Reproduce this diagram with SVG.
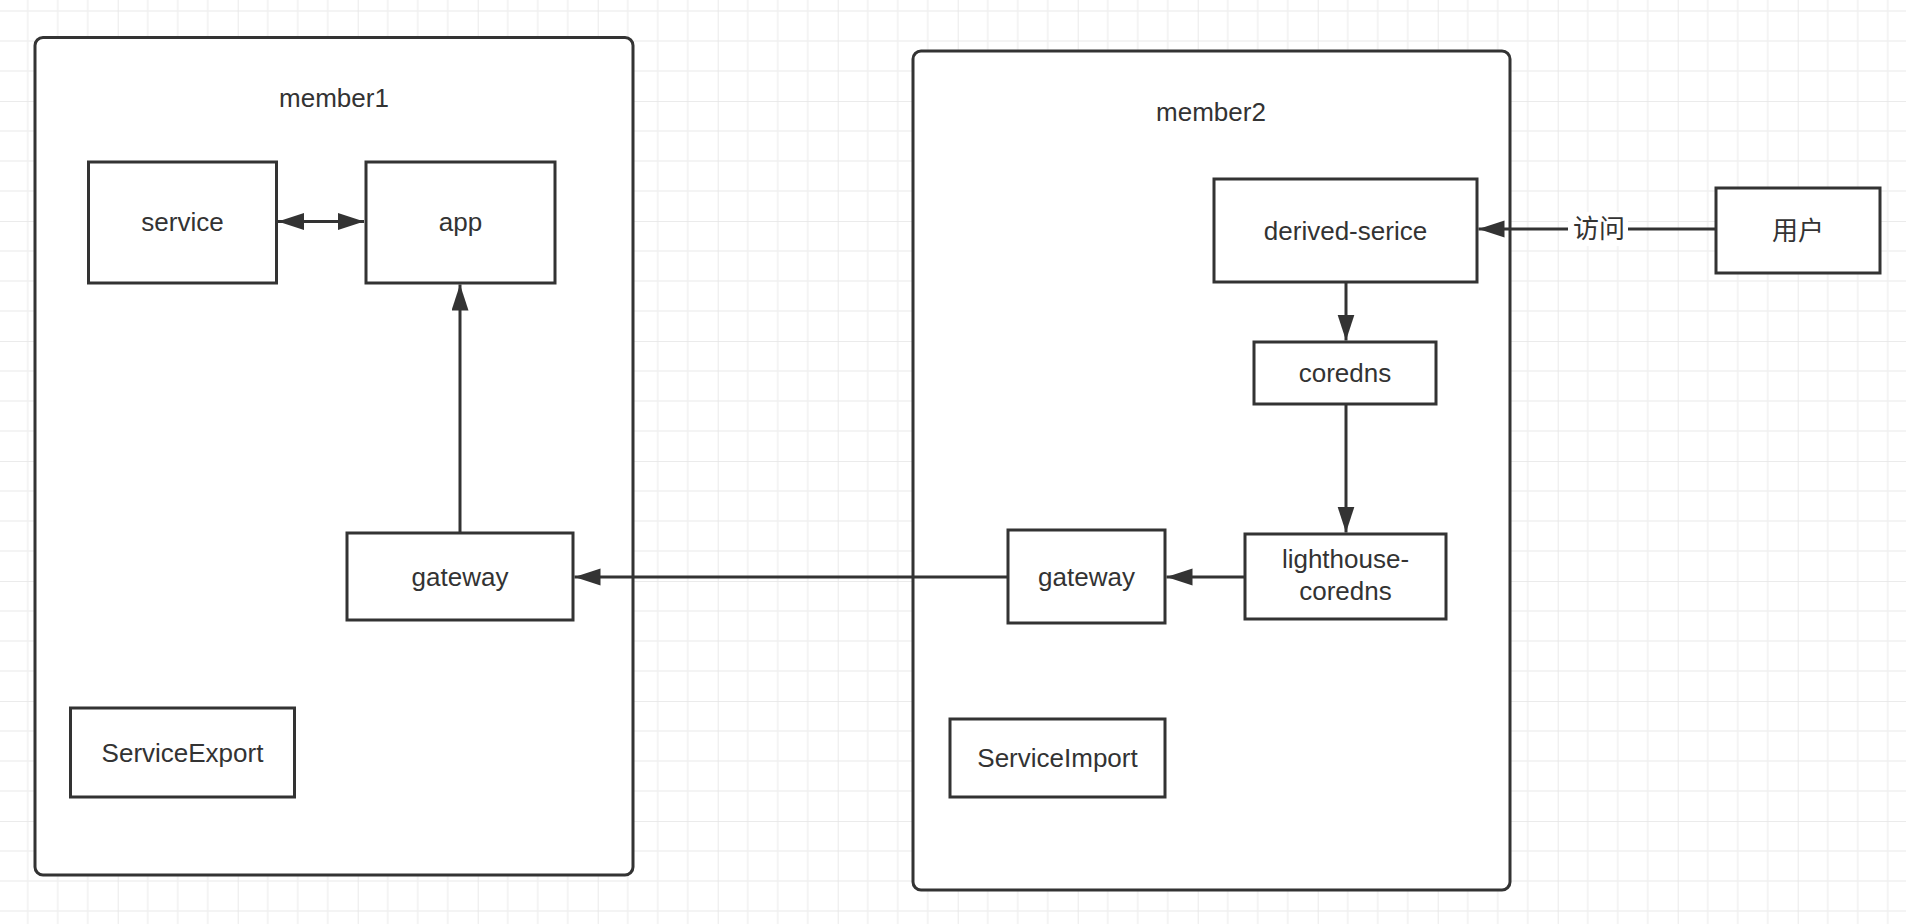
<svg xmlns="http://www.w3.org/2000/svg" width="1906" height="924" viewBox="0 0 1906 924">
<style>
.box{fill:#ffffff;stroke:#333333;stroke-width:3}
.cont{fill:#ffffff;stroke:#333333;stroke-width:3}
.lbl{font-family:"Liberation Sans","Noto Sans CJK SC",sans-serif;font-size:26px;fill:#333333;text-anchor:middle}
.edge{fill:none;stroke:#333333;stroke-width:3}
</style>
<defs>
<pattern id="grid" patternUnits="userSpaceOnUse" x="-2.3" y="-19" width="120" height="120">
<path d="M30,0V120M60,0V120M90,0V120M0,30H120M0,60H120M0,90H120" stroke="#f1f1f1" stroke-width="1.5" fill="none"/>
<path d="M0,0V120M0,0H120" stroke="#e5e5e5" stroke-width="1.6" fill="none"/>
</pattern>
<marker id="arrow" markerUnits="userSpaceOnUse" markerWidth="27" markerHeight="18" refX="26" refY="8.5" orient="auto-start-reverse" viewBox="0 0 27 18">
<path d="M0,0 L26,8.5 L0,17 z" fill="#333333"/>
</marker>
</defs>
<rect x="0" y="0" width="1906" height="924" fill="#ffffff"/>
<rect x="0" y="0" width="1906" height="924" fill="url(#grid)"/>

<g id="member1">
<rect class="cont" x="35" y="37.5" width="598" height="837.5" rx="8"/>
<text class="lbl" x="334" y="107">member1</text>
</g>
<g id="member2">
<rect class="cont" x="913" y="51" width="597" height="839" rx="8"/>
<text class="lbl" x="1211" y="121">member2</text>
</g>

<g id="service">
<rect class="box" x="88.5" y="162" width="188" height="121"/>
<text class="lbl" x="182.5" y="231">service</text>
</g>
<g id="app">
<rect class="box" x="366" y="162" width="189" height="121"/>
<text class="lbl" x="460.5" y="231">app</text>
</g>
<g id="gateway1">
<rect class="box" x="347" y="533" width="226" height="87"/>
<text class="lbl" x="460" y="585.5">gateway</text>
</g>
<g id="serviceexport">
<rect class="box" x="70.5" y="708" width="224" height="89"/>
<text class="lbl" x="182.5" y="761.5">ServiceExport</text>
</g>

<g id="derived-serice">
<rect class="box" x="1214" y="179" width="263" height="103"/>
<text class="lbl" x="1345.5" y="239.5">derived-serice</text>
</g>
<g id="coredns">
<rect class="box" x="1254" y="342" width="182" height="62"/>
<text class="lbl" x="1345" y="382">coredns</text>
</g>
<g id="lighthouse-coredns">
<rect class="box" x="1245" y="534" width="201" height="85"/>
<text class="lbl" x="1345.5" y="568">lighthouse-</text>
<text class="lbl" x="1345.5" y="600">coredns</text>
</g>
<g id="gateway2">
<rect class="box" x="1008" y="530" width="157" height="93"/>
<text class="lbl" x="1086.5" y="586">gateway</text>
</g>
<g id="serviceimport">
<rect class="box" x="950" y="719" width="215" height="78"/>
<text class="lbl" x="1057.5" y="767">ServiceImport</text>
</g>
<g id="user">
<rect class="box" x="1716" y="188" width="164" height="85"/>
<text class="lbl" x="1798" y="240">用户</text>
</g>

<g id="connectors">
<path class="edge" d="M278,221.5 H364" marker-start="url(#arrow)" marker-end="url(#arrow)"/>
<path class="edge" d="M460,533 V284.5" marker-end="url(#arrow)"/>
<path class="edge" d="M1346,282 V340.5" marker-end="url(#arrow)"/>
<path class="edge" d="M1346,404 V532.5" marker-end="url(#arrow)"/>
<path class="edge" d="M1245,577 H1166.5" marker-end="url(#arrow)"/>
<path class="edge" d="M1008,577 H574.5" marker-end="url(#arrow)"/>
<path class="edge" d="M1716,229 H1478.5" marker-end="url(#arrow)"/>
<rect x="1568" y="212" width="60" height="34" fill="#ffffff"/>
<text class="lbl" x="1599" y="238">访问</text>
</g>
</svg>
